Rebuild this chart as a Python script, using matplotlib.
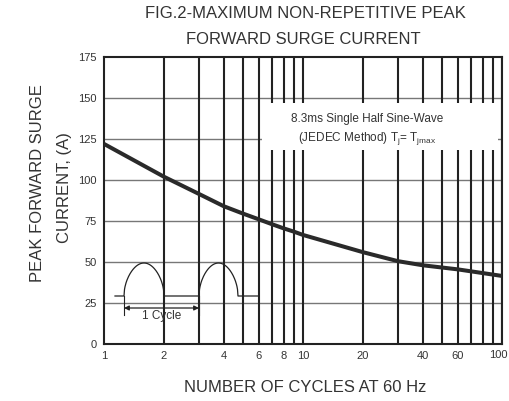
import numpy as np
import matplotlib
matplotlib.use("Agg")
import matplotlib.pyplot as plt
import matplotlib.transforms as mtransforms
from matplotlib.patches import Rectangle

plt.rcParams['font.family'] = ['Liberation Sans', 'DejaVu Sans']

# data
cycles = [1, 2, 3, 4, 5, 6, 7, 8, 9, 10, 20, 30, 40, 60, 100]
current = [122, 102, 91.5, 84, 79.5, 76, 73, 70.5, 68.5, 66.5, 56, 50.5, 48, 45.5, 41.5]
xticks = [1, 2, 4, 6, 8, 10, 20, 40, 60, 100]
xgrid = [2, 3, 4, 5, 6, 7, 8, 9, 10, 20, 30, 40, 50, 60, 70, 80, 90, 100]
yticks = [0, 25, 50, 75, 100, 125, 150, 175]

W, H = 510, 401
fig = plt.figure(figsize=(W / 100, H / 100), dpi=100)
L, R, T, B = 104, 502, 57, 344
ax = fig.add_axes([L / W, (H - B) / H, (R - L) / W, (B - T) / H])
ax.set_xscale('log')
ax.set_xlim(1, 100)
ax.set_ylim(0, 175)

tc = '#333333'
for y in yticks[1:-1]:
    ax.axhline(y, color='#777777', lw=1.0, zorder=1)
for x in xgrid:
    ax.axvline(x, color='#222222', lw=1.5, zorder=1)

# white box behind note text
ax.add_patch(Rectangle((6.2, 118.5), 95.5 - 6.2, 147 - 118.5, facecolor='white',
                       edgecolor='none', zorder=2))
ax.text(21, 137, '8.3ms Single Half Sine-Wave', ha='center', va='center',
        fontsize=8.5, color=tc, zorder=3)
ax.text(21, 125, r'(JEDEC Method) T$_\mathregular{j}$= T$_\mathregular{jmax}$',
        ha='center', va='center', fontsize=8.5, color=tc, zorder=3)

ax.plot(cycles, current, color='#2a2a2a', lw=2.9, zorder=4, solid_capstyle='butt')

ax.set_xticks(xticks)
ax.set_xticklabels([str(v) for v in xticks])
ax.xaxis.set_minor_locator(matplotlib.ticker.NullLocator())
ax.set_yticks(yticks)
ax.tick_params(length=0, labelsize=8, labelcolor=tc, pad=5)
for s in ax.spines.values():
    s.set_color('#222222')
    s.set_linewidth(1.5)

# nudge the last x label inward so it stays in the figure
fig.canvas.draw()
lbls = ax.get_xticklabels()
lbls[-1].set_transform(lbls[-1].get_transform() +
                       mtransforms.ScaledTranslation(-4 / 100, 1 / 100, fig.dpi_scale_trans))

# inset waveform sketch
iL, iR, iT, iB = 105, 265, 253, 322
ia = fig.add_axes([iL / W, (H - iB) / H, (iR - iL) / W, (iB - iT) / H])
ia.set_xlim(iL, iR)
ia.set_ylim(0, iB - iT)
ia.set_facecolor('white')
ia.axis('off')
ia.patch.set_visible(True)
base, amp = 26, 33
t = np.linspace(0, 1, 80)
hump = base + amp * np.sin(np.pi * t) ** 0.5
xs = np.concatenate([[115], 124 + 40 * t, [164, 199], 199 + 39 * t, [238, 259]])
ys = np.concatenate([[base], hump, [base, base], hump, [base, base]])
ia.plot(xs, ys, color='#222222', lw=0.9)
ia.annotate('', xy=(124, 14), xytext=(199, 14),
            arrowprops=dict(arrowstyle='<|-|>', color='#222222', lw=0.9,
                            mutation_scale=7, shrinkA=0, shrinkB=0))
ia.plot([124, 124], [7, 26], color='#222222', lw=0.8)
ia.plot([199, 199], [7, 26], color='#222222', lw=0.8)
ia.text(162, 6.5, '1 Cycle', ha='center', va='center', fontsize=8.5, color=tc)

fs = 12
fig.text(305 / W, 1 - 13 / H, 'FIG.2-MAXIMUM NON-REPETITIVE PEAK', ha='center',
         va='center', fontsize=fs, color=tc)
fig.text(303 / W, 1 - 40 / H, 'FORWARD SURGE CURRENT', ha='center',
         va='center', fontsize=fs, color=tc)
fig.text(305 / W, 1 - 388 / H, 'NUMBER OF CYCLES AT 60 Hz', ha='center',
         va='center', fontsize=fs, color=tc)
fig.text(38 / W, 1 - 183 / H, 'PEAK FORWARD SURGE', ha='center', va='center',
         rotation=90, fontsize=fs, color=tc)
fig.text(65 / W, 1 - 188 / H, 'CURRENT, (A)', ha='center', va='center',
         rotation=90, fontsize=fs, color=tc)

fig.savefig('out.png', dpi=100, facecolor='white')
